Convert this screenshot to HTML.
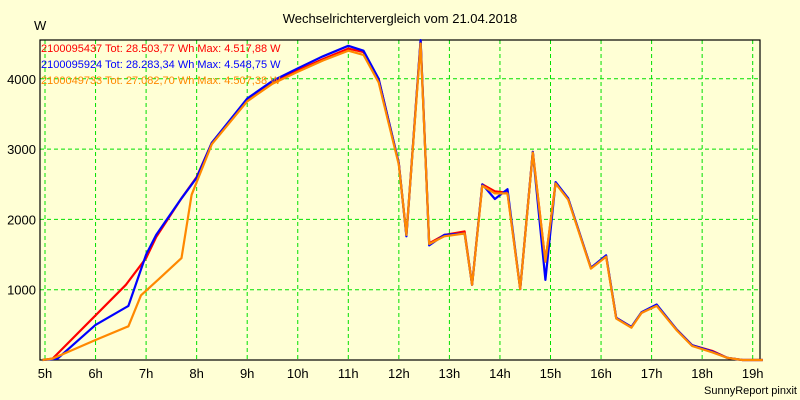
<!DOCTYPE html>
<html><head><meta charset="utf-8"><style>
body{margin:0;background:#ffffd5;}
svg{display:block;font-family:"Liberation Sans",sans-serif;}
</style></head><body>
<svg id="c" width="800" height="400">
<rect x="0" y="0" width="800" height="400" fill="#ffffd5"/>
<text x="400" y="23" text-anchor="middle" font-size="13" fill="#000">Wechselrichtervergleich vom 21.04.2018</text>
<text x="34" y="30" font-size="13" fill="#000">W</text>
<text x="797" y="394" text-anchor="end" font-size="11" fill="#000">SunnyReport pinxit</text>
<g id="grid"></g><g id="axes"></g><g id="series"></g><g id="legend"></g>
</svg>
<script>
const xTicks=[5,6,7,8,9,10,11,12,13,14,15,16,17,18,19];
const yTicks=[1000,2000,3000,4000];
const seriesNames=["2100095437 Tot: 28.503,77 Wh Max: 4.517,88 W","2100095924 Tot: 28.283,34 Wh Max: 4.548,75 W","2100049733 Tot: 27.082,70 Wh Max: 4.507,38 W"];
const seriesColors=["#ff0000","#0000ff","#ff8800"];
const tRed=[4.95,5.15,6.6,7.0,7.2,7.7,8.0,8.3,9,9.5,10,10.5,11,11.3,11.6,12,12.15,12.43,12.6,12.9,13.3,13.45,13.65,13.9,14.15,14.4,14.65,14.9,15.1,15.35,15.8,16.1,16.3,16.6,16.8,17.1,17.5,17.8,18.2,18.5,18.8,19.2];
const vRed=[0,20,1070,1450,1750,2300,2600,3090,3700,3950,4120,4280,4430,4380,4000,2800,1780,4540,1660,1780,1830,1070,2500,2400,2380,1010,2960,1400,2520,2290,1310,1480,600,470,670,780,430,210,130,30,0,0];
const tBlue=[4.95,5.25,6.0,6.65,7.0,7.2,7.7,8.0,8.3,9,9.5,10,10.5,11,11.3,11.6,12,12.15,12.43,12.6,12.9,13.3,13.45,13.65,13.9,14.15,14.4,14.65,14.9,15.1,15.35,15.8,16.1,16.3,16.6,16.8,17.1,17.5,17.8,18.2,18.5,18.8,19.2];
const vBlue=[0,20,500,770,1500,1780,2300,2590,3090,3720,3970,4150,4320,4470,4400,4000,2800,1760,4550,1630,1780,1800,1070,2500,2290,2430,1010,2960,1140,2530,2300,1310,1490,600,470,680,790,430,210,120,30,0,0];
const tOrange=[4.95,5.15,6.0,6.65,6.9,7.25,7.7,7.9,8.3,9,9.5,10,10.5,11,11.3,11.6,12,12.15,12.43,12.6,12.9,13.3,13.45,13.65,13.9,14.15,14.4,14.65,14.9,15.1,15.35,15.8,16.1,16.3,16.6,16.8,17.1,17.5,17.8,18.2,18.5,18.8,19.2];
const vOrange=[0,20,285,480,920,1150,1450,2350,3070,3680,3930,4100,4260,4400,4340,3950,2780,1780,4500,1650,1760,1800,1070,2480,2370,2370,1010,2950,1400,2510,2280,1300,1470,590,460,670,770,420,200,110,30,0,0];
const xs=h=>45+(h-5)*50.55;
const ys=v=>360-v*0.0703;
const NS="http://www.w3.org/2000/svg";
function mk(tag,attrs,parent){const e=document.createElementNS(NS,tag);for(const k in attrs)e.setAttribute(k,attrs[k]);parent.appendChild(e);return e;}
const grid=document.getElementById('grid'),axes=document.getElementById('axes'),ser=document.getElementById('series'),leg=document.getElementById('legend');
xTicks.forEach(h=>{
 const l=mk('line',{x1:xs(h),x2:xs(h),y1:40,y2:360,stroke:'#00e000','stroke-dasharray':'4,3','stroke-width':1},grid);
 
 
 const t=mk('text',{x:xs(h),y:378,'text-anchor':'middle','font-size':13,fill:'#000'},axes);
 t.textContent=h+'h';
 
 
});
yTicks.forEach(v=>{
 const l=mk('line',{x1:40,x2:760,y1:ys(v),y2:ys(v),stroke:'#00e000','stroke-dasharray':'4,3','stroke-width':1},grid);
 
 
 const t=mk('text',{x:36,y:ys(v)+5,'text-anchor':'end','font-size':13,fill:'#000'},axes);
 t.textContent=v;
 
 
});
const frame=mk('rect',{x:40,y:40,width:720,height:320,fill:'none',stroke:'#000','stroke-width':1.2},axes);


const data=[[tRed,vRed],[tBlue,vBlue],[tOrange,vOrange]];
const snames=['series-2100095437','series-2100095924','series-2100049733'];
data.forEach((d,i)=>{
 const pts=d[0].map((t,j)=>xs(t).toFixed(1)+','+ys(d[1][j]).toFixed(1)).join(' ');
 const p=mk('polyline',{points:pts,fill:'none',stroke:seriesColors[i],'stroke-width':2.2,'stroke-linejoin':'round'},ser);
 
 
 const t=mk('text',{x:41,y:52+i*16,'font-size':11,fill:seriesColors[i]},leg);
 t.textContent=seriesNames[i];
 
 
});
</script>
</body></html>
